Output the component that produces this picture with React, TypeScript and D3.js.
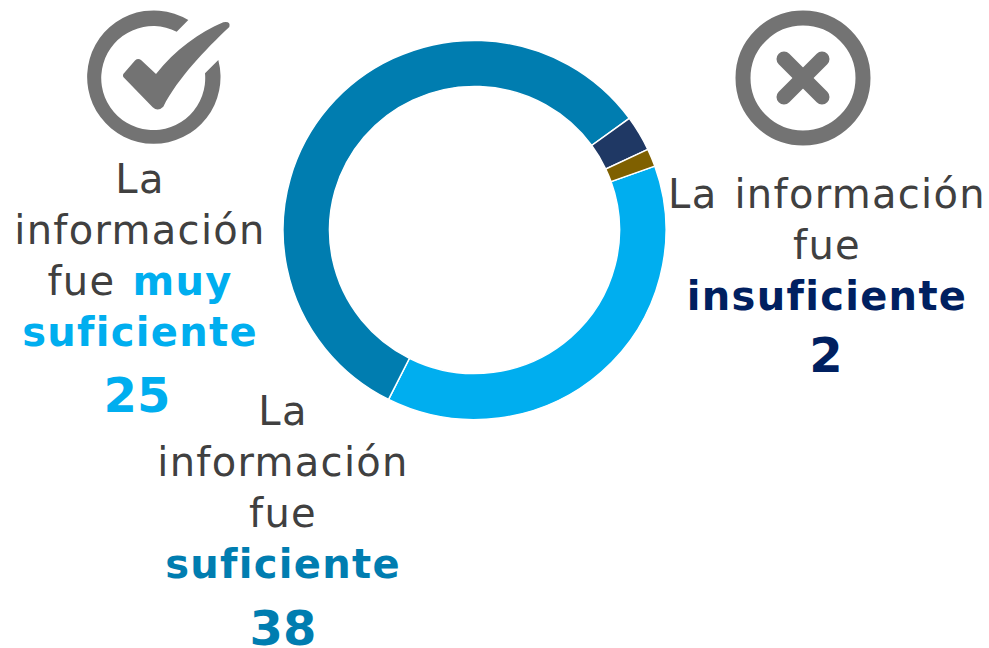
import React from "react";
import * as d3 from "d3";

const categories = ["muy suficiente", "suficiente", "insuficiente", "otro"];
const values = [25, 38, 2, 1];
const colors = ["#00AEEF", "#007DB0", "#1F3864", "#7F6000"];

const width = 989;
const height = 648;
const cx = 474.5;
const cy = 230;
const startDeg = 70.3;

const GREY = "#404040";
const ICON = "#737373";

type Run = { t: string; bold?: boolean; color?: string };
type Line = { x: number; y: number; size?: number; runs: Run[] };

const lines: Line[] = [
  { x: 140, y: 193, runs: [{ t: "La" }] },
  { x: 140, y: 244, runs: [{ t: "información" }] },
  { x: 140, y: 295, runs: [{ t: "fue " }, { t: "muy", bold: true, color: colors[0] }] },
  { x: 140, y: 346, runs: [{ t: "suficiente", bold: true, color: colors[0] }] },
  { x: 137, y: 412, size: 48, runs: [{ t: "25", bold: true, color: colors[0] }] },
  { x: 283, y: 425, runs: [{ t: "La" }] },
  { x: 283, y: 476, runs: [{ t: "información" }] },
  { x: 283, y: 527, runs: [{ t: "fue" }] },
  { x: 283, y: 578, runs: [{ t: "suficiente", bold: true, color: colors[1] }] },
  { x: 283, y: 645, size: 48, runs: [{ t: "38", bold: true, color: colors[1] }] },
  { x: 827, y: 208, runs: [{ t: "La información" }] },
  { x: 827, y: 259, runs: [{ t: "fue" }] },
  { x: 827, y: 310, runs: [{ t: "insuficiente", bold: true, color: "#002060" }] },
  { x: 826, y: 372, size: 48, runs: [{ t: "2", bold: true, color: "#002060" }] },
];

export default function App() {
  const pie = d3
    .pie<number>()
    .sort(null)
    .startAngle((startDeg * Math.PI) / 180)
    .endAngle((startDeg * Math.PI) / 180 + 2 * Math.PI);
  const arc = d3.arc<d3.PieArcDatum<number>>().innerRadius(145).outerRadius(191.5);
  const slices = pie(values);

  return (
    <svg
      width={width}
      height={height}
      style={{ position: "absolute", left: 0, top: 0 }}
      fontFamily="'DejaVu Sans', Verdana, sans-serif"
    >
      {/* ring is very slightly squashed in the original */}
      <g transform={`translate(${cx},${cy}) scale(1,0.99)`}>
        {slices.map((d, i) => (
          <path key={categories[i]} d={arc(d) || ""} fill={colors[i]} stroke="#fff" strokeWidth={1.5} />
        ))}
      </g>

      {/* check icon */}
      <path
        d="M218.3 60 A66.7 66.7 0 1 1 188.3 20 L176.7 31.7 A52 52 0 1 0 205 73.3 Z"
        fill={ICON}
      />
      <path
        d="M123.3 74 L135 60.5 Q138 58 141 60 L156 74 C175 50 200 32 223.3 22.3 Q231 21 229.3 27 C205 50 178 78 163.3 106.7 Q158 112 152.7 107.3 L123.3 77 Q122.5 75.5 123.3 74 Z"
        fill={ICON}
      />

      {/* cross icon */}
      <circle cx={803} cy={78} r={60} fill="none" stroke={ICON} strokeWidth={15} />
      <g stroke={ICON} strokeWidth={15} strokeLinecap="round">
        <line x1={784} y1={59} x2={822} y2={97} />
        <line x1={822} y1={59} x2={784} y2={97} />
      </g>

      {lines.map((l, i) => (
        <text
          key={i}
          x={l.x}
          y={l.y}
          textAnchor="middle"
          fontSize={l.size ?? 40}
          letterSpacing={l.size ? 0 : 1.3}
          wordSpacing={l.size ? 0 : 3}
          fill={GREY}
        >
          {l.runs.map((r, j) => (
            <tspan key={j} fontWeight={r.bold ? "bold" : "normal"} fill={r.color ?? GREY}>
              {r.t}
            </tspan>
          ))}
        </text>
      ))}
    </svg>
  );
}
